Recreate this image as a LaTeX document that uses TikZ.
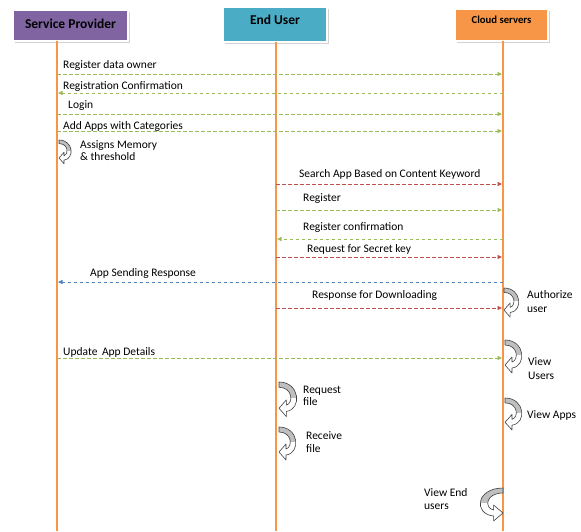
\documentclass[tikz,border=0pt]{standalone}
\usepackage{fontspec}
\setmainfont{Carlito}
\usetikzlibrary{arrows.meta,shadows}

\definecolor{spviolet}{HTML}{8064A2}
\definecolor{euteal}{HTML}{4BACC6}
\definecolor{csorange}{HTML}{F79646}
\definecolor{msggreen}{HTML}{9BBB59}
\definecolor{msgred}{HTML}{C0504D}
\definecolor{msgblue}{HTML}{4F81BD}
\definecolor{loopgray}{HTML}{BFBFBF}

\tikzset{
    selfloop/.pic={
        \begin{scope}
            \clip (0,0) .. controls (20,0) and (22,26) .. (7,28) -- (7,33) -- (0,25) -- (7,17) -- (7,22) .. controls (14,20) and (13,5) .. (0,5) -- cycle;
            \fill[white] (-2,-2) rectangle (26,36);
            \fill[loopgray] (-2,-2) rectangle (26,15);
        \end{scope}
        \draw[line width=0.6pt, black!75, line join=round] (0,0) .. controls (20,0) and (22,26) .. (7,28) -- (7,33) -- (0,25) -- (7,17) -- (7,22) .. controls (14,20) and (13,5) .. (0,5) -- cycle;
    }
}

\begin{document}
\begin{tikzpicture}[x=1pt, y=-1pt,
        hdr/.style={draw=white, line width=1.2pt, drop shadow={shadow xshift=1.5pt, shadow yshift=-1.5pt, fill=black!35}},
        hdrtext/.style={font=\bfseries\fontsize{13.5}{15}\selectfont},
        lifeline/.style={csorange, line width=1.6pt},
        msg/.style={dash pattern=on 3.5pt off 2.5pt, line width=0.8pt, -{Triangle[length=4.5pt, width=4pt]}, shorten >=1pt},
        lbl/.style={anchor=west, inner sep=0pt, align=left, font=\fontsize{11.5}{13}\selectfont}]

        \useasboundingbox (0,0) rectangle (581,531);

        \node[hdr, fill=spviolet, minimum width=115pt, minimum height=31pt, label={[hdrtext, yshift=1.5pt]center:Service Provider}] (sp) at (70.5,25.5) {};

        \node[hdr, fill=euteal, minimum width=104pt, minimum height=35pt, label={[hdrtext, yshift=4.5pt]center:End User}] (eu) at (275,24.5) {};

        \node[hdr, fill=csorange, minimum width=93pt, minimum height=32pt, label={[font=\bfseries\fontsize{10.7}{12}\selectfont, yshift=5.5pt]center:Cloud servers}] (cs) at (501.5,25) {};

        \coordinate (spl) at (57,41);
        \coordinate (eul) at (276,42);
        \coordinate (csl) at (503,41);

        \draw[lifeline] (spl) -- (spl |- 0,531);
        \draw[lifeline] (eul) -- (eul |- 0,531);
        \draw[lifeline] (csl) -- (csl |- 0,531);

        % service provider and cloud
        \draw[msg, msggreen] (spl |- 0,74) -- (csl |- 0,74);
        \node[lbl] (m1) at (63,65) {Register data owner};

        \draw[msg, msggreen] (csl |- 0,93) -- (spl |- 0,93);
        \node[lbl] (m2) at (63,87) {Registration Confirmation};

        \draw[msg, msggreen] (spl |- 0,114) -- (csl |- 0,114);
        \node[lbl] (m3) at (68,106) {Login};

        \draw[msg, msggreen] (spl |- 0,131) -- (csl |- 0,131);
        \node[lbl] (m4) at (63,126) {Add Apps with Categories};

        \pic[scale=0.72] at (59,140) {selfloop};
        \node[lbl, font=\fontsize{11.5}{12}\selectfont] (l1) at (80,151) {Assigns Memory\\\& threshold};

        % end user and cloud
        \draw[msg, msgred] (eul |- 0,184) -- (csl |- 0,184);
        \node[lbl] (m5) at (299,174) {Search App Based on Content Keyword};

        \draw[msg, msggreen] (eul |- 0,210) -- (csl |- 0,210);
        \node[lbl] (m6) at (303,199) {Register};

        \draw[msg, msggreen] (csl |- 0,239) -- (eul |- 0,239);
        \node[lbl] (m7) at (303,228) {Register confirmation};

        \draw[msg, msgred] (eul |- 0,257) -- (csl |- 0,257);
        \node[lbl] (m8) at (307,249) {Request for Secret key};

        \draw[msg, msgblue] (csl |- 0,282) -- (spl |- 0,282);
        \node[lbl] (m9) at (90,273) {App Sending Response};

        \draw[msg, msgred] (eul |- 0,308) -- (csl |- 0,308);
        \node[lbl] (m10) at (312,295) {Response for Downloading};

        \pic[scale=0.88] at (504,288) {selfloop};
        \node[lbl, font=\fontsize{11.5}{14}\selectfont] (l2) at (527,302) {Authorize\\user};

        \draw[msg, msggreen] (spl |- 0,358) -- (csl |- 0,358);
        \node[lbl] (m11) at (63,352) {Update\, App Details};

        \pic at (505,340) {selfloop};
        \node[lbl, font=\fontsize{11.5}{14}\selectfont] (l3) at (528,369) {View\\Users};

        \pic[xscale=1.05, yscale=1.05] at (279,382) {selfloop};
        \node[lbl, font=\fontsize{11.5}{12.5}\selectfont] (l4) at (303,396) {Request\\file};

        \pic[yscale=0.97] at (505,398) {selfloop};
        \node[lbl] (l5) at (527,415) {View Apps};

        \pic at (279,427) {selfloop};
        \node[lbl, font=\fontsize{11.5}{12.5}\selectfont] (l6) at (306,442) {Receive\\file};

        \pic[xscale=-1.35] at (503,488) {selfloop};
        \node[lbl, font=\fontsize{11.5}{13}\selectfont] (l7) at (424,499.5) {View End\\users};

\end{tikzpicture}
\end{document}
